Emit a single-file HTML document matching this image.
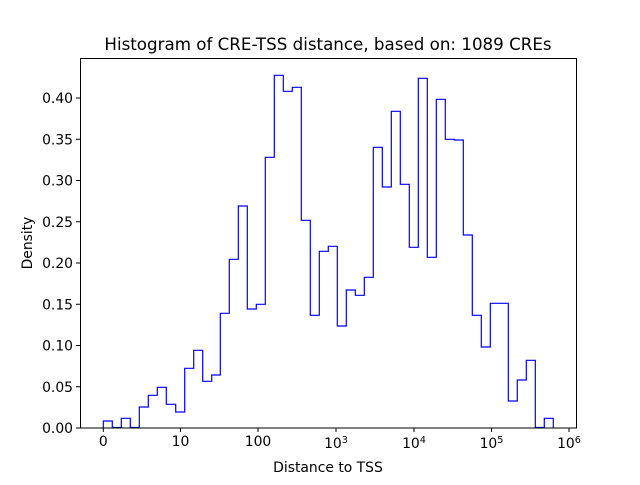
<!DOCTYPE html><html><head><style>body{margin:0;background:#fff}</style></head><body>
<svg width="640" height="480" xmlns="http://www.w3.org/2000/svg" font-family="DejaVu Sans, Liberation Sans, sans-serif">
<rect width="640" height="480" fill="#fff"/>
<path fill="none" stroke="#0000ff" stroke-width="1.2" d="M103.3,427.5 V421 H112.3 V427.5 H121.3 V418.3 H130.3 V427.5 H139.3 V407 H148.3 V395.3 H157.3 V387.3 H166.3 V404.3 H175.7 V412 H184.7 V368.3 H193.7 V350.3 H202.7 V381.3 H211.7 V375 H220.3 V313.3 H229.3 V259.3 H238.3 V206 H247.3 V309 H256.3 V304.3 H265.3 V157.3 H274.3 V75.3 H283.3 V91.3 H292.3 V87.3 H301.3 V220.3 H310.3 V315.3 H319.3 V251.3 H328.3 V246.3 H337.3 V326 H346.3 V290 H355.3 V295.3 H364.3 V277.3 H373.3 V147.3 H382.3 V187 H391.3 V111.3 H400.3 V184.3 H409.3 V247.3 H418.3 V78.3 H427.3 V257.3 H436.3 V99.3 H445.3 V139.3 H454.3 V140 H463.3 V235 H472.3 V315.3 H481.3 V347 H490.3 V303.3 H508.3 V401 H517.3 V380 H526.3 V360.3 H535.3 V427.5 H544.3 V418.3 H553.3 V427.5"/>
<rect x="80.5" y="58.5" width="496" height="369.5" fill="none" stroke="#000" stroke-width="1"/>
<g stroke="#000">
<line x1="103.3" y1="428" x2="103.3" y2="432"/><line x1="180.5" y1="428" x2="180.5" y2="432"/><line x1="258" y1="428" x2="258" y2="432"/><line x1="336" y1="428" x2="336" y2="432"/><line x1="414" y1="428" x2="414" y2="432"/><line x1="491.5" y1="428" x2="491.5" y2="432"/><line x1="569" y1="428" x2="569" y2="432"/>
<line x1="76" x2="80" y1="428" y2="428"/><line x1="76" x2="80" y1="386.75" y2="386.75"/><line x1="76" x2="80" y1="345.5" y2="345.5"/><line x1="76" x2="80" y1="304.25" y2="304.25"/><line x1="76" x2="80" y1="263" y2="263"/><line x1="76" x2="80" y1="221.75" y2="221.75"/><line x1="76" x2="80" y1="180.5" y2="180.5"/><line x1="76" x2="80" y1="139.25" y2="139.25"/><line x1="76" x2="80" y1="98" y2="98"/>
</g>
<g font-size="13.9" text-anchor="middle">
<text x="103.3" y="446">0</text><text x="180.5" y="446">10</text><text x="258" y="446">100</text>
<text x="336" y="448">10<tspan font-size="9.7" dy="-5">3</tspan></text>
<text x="414" y="448">10<tspan font-size="9.7" dy="-5">4</tspan></text>
<text x="491.5" y="448">10<tspan font-size="9.7" dy="-5">5</tspan></text>
<text x="569" y="448">10<tspan font-size="9.7" dy="-5">6</tspan></text>
</g>
<g font-size="13.9" text-anchor="end">
<text x="73" y="433">0.00</text><text x="73" y="391.75">0.05</text><text x="73" y="350.5">0.10</text><text x="73" y="309.25">0.15</text><text x="73" y="268">0.20</text><text x="73" y="226.75">0.25</text><text x="73" y="185.5">0.30</text><text x="73" y="144.25">0.35</text><text x="73" y="103">0.40</text>
</g>
<text x="328" y="472" font-size="13.9" text-anchor="middle">Distance to TSS</text>
<text transform="translate(32,243) rotate(-90)" font-size="13.9" text-anchor="middle">Density</text>
<text x="328" y="50" font-size="16.7" text-anchor="middle">Histogram of CRE-TSS distance, based on: 1089 CREs</text>
</svg></body></html>
